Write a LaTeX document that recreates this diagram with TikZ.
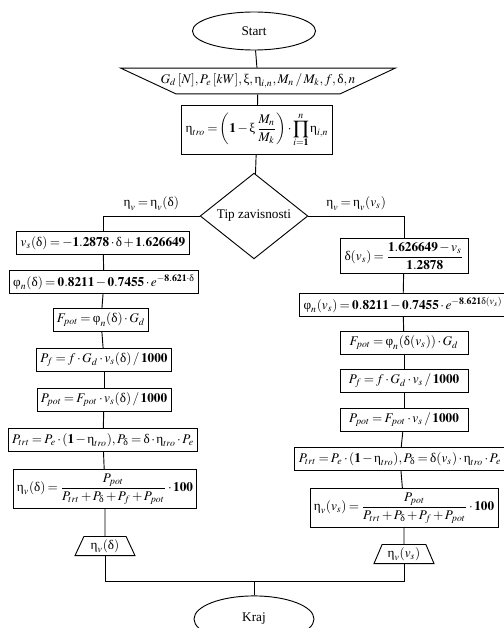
\documentclass[tikz,border=0pt]{standalone}
\usepackage{amsmath}
\usepackage{mathptmx}
\usepackage{fontspec}
\setmainfont{Liberation Serif}
\usetikzlibrary{shapes.geometric,positioning}
\newcommand{\ueta}{\text{η}}
\newcommand{\udelta}{\text{δ}}
\newcommand{\uphi}{\text{φ}}
\newcommand{\uxi}{\text{ξ}}
\thickmuskip=3mu plus 2mu
\medmuskip=2mu plus 1mu

\begin{document}
\begin{tikzpicture}[x=0.65pt,y=-0.65pt,line width=0.6pt,font=\fontsize{8.6}{10.3}\selectfont,
  procbox/.style={draw,rectangle,inner xsep=2.5pt,inner ysep=2.5pt,minimum height=15pt},
  widebox/.style={procbox,minimum width=83.2pt},
  termnode/.style={draw,ellipse,minimum width=80pt,minimum height=24.7pt},
  decnode/.style={draw,diamond,inner sep=0pt,minimum width=70pt,minimum height=54.6pt},
  inbox/.style={draw,trapezium,shape border rotate=180,trapezium left angle=25,trapezium right angle=25,inner xsep=-10pt,inner ysep=3.5pt},
  outbox/.style={draw,trapezium,trapezium left angle=68,trapezium right angle=68,trapezium stretches=true,inner sep=1pt,minimum width=39pt,minimum height=12.4pt}]
\useasboundingbox (0,0) rectangle (504,628);

% start, ulaz, stepen korisnosti transmisije
\node[termnode] (start) at (254,31) {Start};
\node[inbox] (ulaz) at (258,81) {$G_d\,[N], P_e\,[kW], \uxi, \ueta_{i,n}, M_n\,/\,M_k, f, \udelta, n$};
\node[procbox,inner ysep=4.5pt] (etatro) at (257,130) {$\ueta_{tro} = \left(\mathbf{1} - \uxi\,\dfrac{M_n}{M_k}\right)\cdot\displaystyle\prod_{i=\mathbf{1}}^{n}\ueta_{i,n}$};
\node[decnode] (tip) at (254,216) {Tip zavisnosti};

% lijeva grana: eta_v(delta)
\node[procbox] (vsL) at (103,243) {$v_s(\udelta) = \mathbf{-1.2878}\cdot\udelta + \mathbf{1.626649}$};
\node[procbox] (phiL) at (104,282) {$\uphi_n(\udelta) = \mathbf{0.8211 - 0.7455}\cdot e^{\mathbf{-8.621}\cdot\udelta}$};
\node[procbox] (FL) at (101,320) {$F_{pot} = \uphi_n(\udelta)\cdot G_d$};
\node[procbox] (PfL) at (104,360) {$P_f = f\cdot G_d\cdot v_s(\udelta)\,/\,\mathbf{1000}$};
\node[procbox] (PpotL) at (104,400) {$P_{pot} = F_{pot}\cdot v_s(\udelta)\,/\,\mathbf{1000}$};
\node[procbox] (PtrtL) at (103,440) {$P_{trt} = P_e\cdot(\mathbf{1}-\ueta_{tro}), P_{\udelta} = \udelta\cdot\ueta_{tro}\cdot P_e$};
\node[procbox] (etaL) at (105,489) {$\ueta_v(\udelta) = \dfrac{P_{pot}}{P_{trt}+P_{\udelta}+P_f+P_{pot}}\cdot\mathbf{100}$};
\node[outbox] (outL) at (105,546) {$\ueta_v(\udelta)$};

% desna grana: eta_v(v_s)
\node[widebox] (dR) at (404,256) {$\udelta(v_s) = \dfrac{\mathbf{1.626649} - v_s}{\mathbf{1.2878}}$};
\node[procbox] (phiR) at (403,305) {$\uphi_n(v_s) = \mathbf{0.8211 - 0.7455}\cdot e^{\mathbf{-8.621}\udelta(v_s)}$};
\node[widebox] (FR) at (404,343) {$F_{pot} = \uphi_n(\udelta(v_s))\cdot G_d$};
\node[widebox] (PfR) at (404,381) {$P_f = f\cdot G_d\cdot v_s\,/\,\mathbf{1000}$};
\node[widebox] (PpotR) at (404,420) {$P_{pot} = F_{pot}\cdot v_s\,/\,\mathbf{1000}$};
\node[procbox] (PtrtR) at (400,459) {$P_{trt} = P_e\cdot(\mathbf{1}-\ueta_{tro}), P_{\udelta} = \udelta(v_s)\cdot\ueta_{tro}\cdot P_e$};
\node[procbox] (etaR) at (404,508) {$\ueta_v(v_s) = \dfrac{P_{pot}}{P_{trt}+P_{\udelta}+P_f+P_{pot}}\cdot\mathbf{100}$};
\node[outbox] (outR) at (404,554) {$\ueta_v(v_s)$};

% kraj
\coordinate (spoj) at (254,581);
\node[termnode,minimum width=78pt,minimum height=30pt] (kraj) at (254,619) {Kraj};

\draw (start) -- (ulaz);
\draw (ulaz) -- (etatro);
\draw (etatro) -- (tip);
\draw (tip.west) -| node[pos=0.25,above] {$\ueta_v = \ueta_v(\udelta)$} (vsL.north);
\draw (tip.east) -| node[pos=0.25,above] {$\ueta_v = \ueta_v(v_s)$} (dR.north);
\draw (vsL) -- (phiL);
\draw (phiL) -- (FL);
\draw (FL) -- (PfL);
\draw (PfL) -- (PpotL);
\draw (PpotL) -- (PtrtL);
\draw (PtrtL) -- (etaL);
\draw (etaL) -- (outL);
\draw (dR) -- (phiR);
\draw (phiR) -- (FR);
\draw (FR) -- (PfR);
\draw (PfR) -- (PpotR);
\draw (PpotR) -- (PtrtR);
\draw (PtrtR) -- (etaR);
\draw (etaR) -- (outR);
\draw (outL) |- (spoj);
\draw (outR) |- (spoj);
\draw (spoj) -- (kraj);
\end{tikzpicture}
\end{document}
